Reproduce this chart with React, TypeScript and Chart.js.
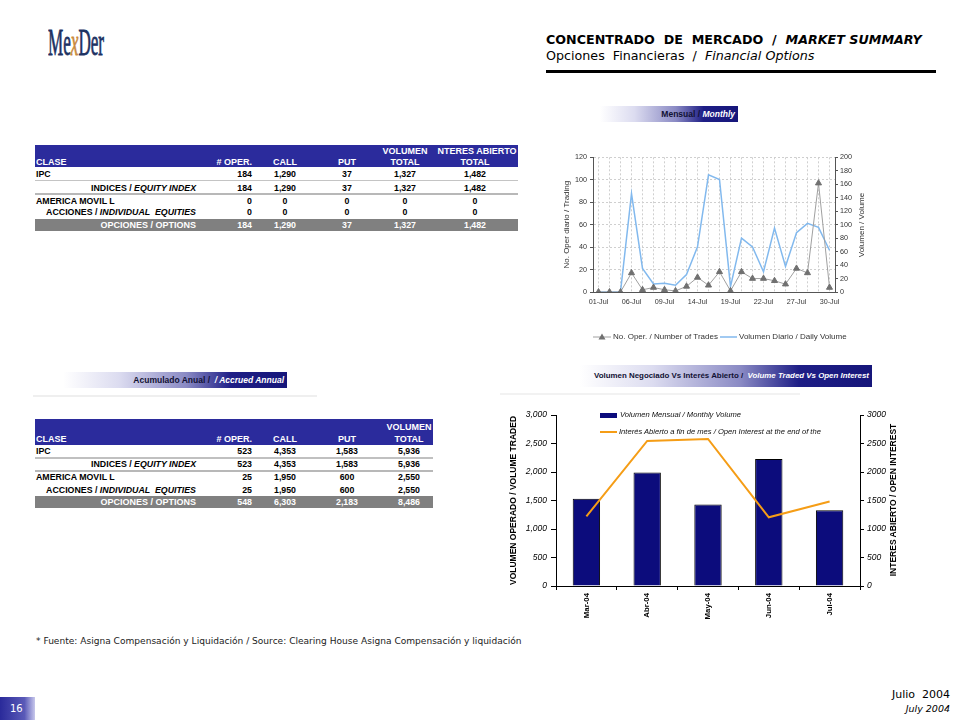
import React, { useEffect, useRef } from 'react';
import { Chart, registerables } from 'chart.js';

Chart.register(...registerables);

// ---------- DATA ----------
const dailyLabels = ['01-Jul', '02-Jul', '05-Jul', '06-Jul', '07-Jul', '08-Jul', '09-Jul', '12-Jul', '13-Jul', '14-Jul', '15-Jul', '16-Jul', '19-Jul', '20-Jul', '21-Jul', '22-Jul', '23-Jul', '26-Jul', '27-Jul', '28-Jul', '29-Jul', '30-Jul'];
const shownDailyTicks = ['01-Jul', '06-Jul', '09-Jul', '14-Jul', '19-Jul', '22-Jul', '27-Jul', '30-Jul'];
const dailyTrades = [0, 0, 0, 17, 2, 4, 2, 1, 5, 13, 6, 18, 1, 18, 12, 12, 10, 7, 21, 17, 97, 4];
const dailyVolume = [0, 0, 0, 146, 35, 12, 13, 10, 26, 67, 174, 167, 8, 80, 67, 30, 95, 38, 88, 102, 96, 62];

const months = ['Mar-04', 'Abr-04', 'May-04', 'Jun-04', 'Jul-04'];
const monthlyVolume = [1530, 1990, 1430, 2230, 1327];
const openInterest = [1220, 2545, 2580, 1205, 1482];

const monthIPC = [184, 1290, 37, 1327, 1482];
const monthIndex = [184, 1290, 37, 1327, 1482];
const monthAMX = [0, 0, 0, 0, 0];
const monthEquities = [0, 0, 0, 0, 0];
const monthTotal = [184, 1290, 37, 1327, 1482];

const yearIPC = [523, 4353, 1583, 5936];
const yearIndex = [523, 4353, 1583, 5936];
const yearAMX = [25, 1950, 600, 2550];
const yearEquities = [25, 1950, 600, 2550];
const yearTotal = [548, 6303, 2183, 8486];

// ---------- STYLE ----------
const SANS = '"Liberation Sans", Arial, sans-serif';
const VERD = '"DejaVu Sans", Verdana, sans-serif';
const HEAD_NAVY = '#2b2b9c';
const fmt = (n: number) => n.toLocaleString('en-US');

type Align = 'left' | 'right' | 'center';
function T(props: { x: number; y: number; align?: Align; children: any; style?: any; w?: number }) {
  const { x, y, align = 'left', children, style, w = 300 } = props;
  const left = align === 'left' ? x : align === 'right' ? x - w : x - w / 2;
  return (
    <div style={{ position: 'absolute', left, top: y - 7, width: w, height: 14, lineHeight: '14px', textAlign: align, whiteSpace: 'pre', ...style }}>
      {children}
    </div>
  );
}

function VT(props: { cx: number; cy: number; children: any; style?: any }) {
  return (
    <div style={{ position: 'absolute', left: props.cx - 120, top: props.cy - 7, width: 240, height: 14, lineHeight: '14px', textAlign: 'center', whiteSpace: 'pre', transform: 'rotate(-90deg)', transformOrigin: 'center center', ...props.style }}>
      {props.children}
    </div>
  );
}

function Box(props: { x: number; y: number; w: number; h: number; bg: string }) {
  return <div style={{ position: 'absolute', left: props.x, top: props.y, width: props.w, height: props.h, background: props.bg }} />;
}

function Banner(props: { x: number; y: number; w: number; h: number; dark: string; light: string; fs?: number }) {
  return (
    <div style={{ position: 'absolute', left: props.x, top: props.y, width: props.w, height: props.h,
      background: 'linear-gradient(to right, #ffffff 0%, #dcdcf0 25%, #8a8ac4 55%, #1e1e86 75%, #16167a 100%)',
      fontFamily: SANS, fontWeight: 'bold', fontSize: props.fs || 9, lineHeight: props.h + 'px', textAlign: 'right', paddingRight: 3, boxSizing: 'border-box', whiteSpace: 'pre', overflow: 'hidden' }}>
      <span style={{ color: '#111133' }}>{props.dark}</span>
      <span style={{ color: '#ffffff', fontStyle: 'italic' }}>{props.light}</span>
    </div>
  );
}

// ---------- TABLES ----------
const cellFont = { fontFamily: SANS, fontWeight: 'bold', fontSize: 8.8, color: '#000' };

function MonthTable() {
  const colX = [252, 285, 347, 405, 475];
  const colA: Align[] = ['right', 'center', 'center', 'center', 'center'];
  const rows = [
    { y: 174, label: <>IPC</>, lx: 36, la: 'left' as Align, vals: monthIPC },
    { y: 188, label: <>INDICES / <i>EQUITY INDEX</i></>, lx: 196, la: 'right' as Align, vals: monthIndex },
    { y: 201, label: <>AMERICA MOVIL L</>, lx: 36, la: 'left' as Align, vals: monthAMX },
    { y: 212, label: <>ACCIONES / <i>INDIVIDUAL  EQUITIES</i></>, lx: 196, la: 'right' as Align, vals: monthEquities },
  ];
  const hs = { ...cellFont, color: '#fff', fontSize: 9 };
  return (
    <>
      <Box x={35} y={145} w={483} h={22} bg={HEAD_NAVY} />
      <T x={36} y={162} style={hs}>CLASE</T>
      <T x={252} y={162} align="right" style={hs}># OPER.</T>
      <T x={285} y={162} align="center" style={hs}>CALL</T>
      <T x={347} y={162} align="center" style={hs}>PUT</T>
      <T x={405} y={151} align="center" style={hs}>VOLUMEN</T>
      <T x={405} y={162} align="center" style={hs}>TOTAL</T>
      <T x={477} y={151} align="center" style={hs}>NTERES ABIERTO</T>
      <T x={475} y={162} align="center" style={hs}>TOTAL</T>
      <Box x={35} y={180} w={483} h={1} bg="#c4c4c4" />
      <Box x={35} y={193} w={483} h={2} bg="#b8b8b8" />
      {rows.map((r, i) => (
        <React.Fragment key={i}>
          <T x={r.lx} y={r.y} align={r.la} style={cellFont}>{r.label}</T>
          {r.vals.map((v, j) => <T key={j} x={colX[j]} y={r.y} align={colA[j]} w={80} style={cellFont}>{fmt(v)}</T>)}
        </React.Fragment>
      ))}
      <Box x={35} y={219} w={483} h={12} bg="#808080" />
      <T x={196} y={225} align="right" style={{ ...cellFont, color: '#fff', fontSize: 9 }}>OPCIONES / OPTIONS</T>
      {monthTotal.map((v, j) => <T key={j} x={colX[j]} y={225} align={colA[j]} w={80} style={{ ...cellFont, color: '#fff' }}>{fmt(v)}</T>)}
    </>
  );
}

function YearTable() {
  const colX = [252, 285, 347, 409];
  const colA: Align[] = ['right', 'center', 'center', 'center'];
  const rows = [
    { y: 451, label: <>IPC</>, lx: 36, la: 'left' as Align, vals: yearIPC },
    { y: 464, label: <>INDICES / <i>EQUITY INDEX</i></>, lx: 196, la: 'right' as Align, vals: yearIndex },
    { y: 477, label: <>AMERICA MOVIL L</>, lx: 36, la: 'left' as Align, vals: yearAMX },
    { y: 490, label: <>ACCIONES / <i>INDIVIDUAL  EQUITIES</i></>, lx: 196, la: 'right' as Align, vals: yearEquities },
  ];
  const hs = { ...cellFont, color: '#fff', fontSize: 9 };
  return (
    <>
      <Box x={35} y={419} w={398} h={26} bg={HEAD_NAVY} />
      <T x={36} y={439} style={hs}>CLASE</T>
      <T x={252} y={439} align="right" style={hs}># OPER.</T>
      <T x={285} y={439} align="center" style={hs}>CALL</T>
      <T x={347} y={439} align="center" style={hs}>PUT</T>
      <T x={409} y={427} align="center" style={hs}>VOLUMEN</T>
      <T x={409} y={439} align="center" style={hs}>TOTAL</T>
      <Box x={35} y={457} w={398} h={2} bg="#c0c0c0" />
      <Box x={35} y={470} w={398} h={2} bg="#b8b8b8" />
      {rows.map((r, i) => (
        <React.Fragment key={i}>
          <T x={r.lx} y={r.y} align={r.la} style={cellFont}>{r.label}</T>
          {r.vals.map((v, j) => <T key={j} x={colX[j]} y={r.y} align={colA[j]} w={80} style={cellFont}>{fmt(v)}</T>)}
        </React.Fragment>
      ))}
      <Box x={35} y={496} w={398} h={12} bg="#808080" />
      <T x={196} y={502} align="right" style={{ ...cellFont, color: '#fff', fontSize: 9 }}>OPCIONES / OPTIONS</T>
      {yearTotal.map((v, j) => <T key={j} x={colX[j]} y={502} align={colA[j]} w={80} style={{ ...cellFont, color: '#fff' }}>{fmt(v)}</T>)}
    </>
  );
}

// ---------- CHARTS ----------
function DailyChart() {
  const ref = useRef<HTMLCanvasElement>(null);
  useEffect(() => {
    const axisCol = '#555555';
    const tickFont = { family: SANS, size: 7.2 };
    const chart = new Chart(ref.current as HTMLCanvasElement, {
      type: 'line',
      data: {
        labels: dailyLabels,
        datasets: [
          { label: 'No. Oper. / Number of Trades', data: dailyTrades, yAxisID: 'y', borderColor: '#a0a0a0', borderWidth: 1, pointStyle: 'triangle', pointRadius: 3.5, pointBackgroundColor: '#707070', pointBorderColor: '#707070', tension: 0, order: 0 },
          { label: 'Volumen Diario / Daily Volume', data: dailyVolume, yAxisID: 'y1', borderColor: '#82b9ee', borderWidth: 1.5, pointRadius: 0, tension: 0, order: 1 },
        ],
      },
      options: {
        animation: false, responsive: false, maintainAspectRatio: false,
        layout: { padding: { top: 7, left: 0, right: 0, bottom: 0 } },
        plugins: { legend: { display: false }, tooltip: { enabled: false } },
        scales: {
          x: {
            offset: true,
            afterFit: (s: any) => { s.height = 23; },
            grid: { color: '#cfcfcf', drawTicks: false },
            border: { color: axisCol, dash: [2, 2] },
            ticks: { autoSkip: false, maxRotation: 0, minRotation: 0, padding: 6, color: '#333', font: tickFont,
              callback: (_v: any, i: number) => (shownDailyTicks.includes(dailyLabels[i]) ? dailyLabels[i] : '') },
          },
          y: {
            position: 'left', min: 0, max: 120,
            afterFit: (s: any) => { s.width = 38; },
            ticks: { stepSize: 20, padding: 3, color: '#333', font: tickFont },
            grid: { color: '#cfcfcf', tickColor: axisCol, tickLength: 3 },
            border: { color: axisCol, dash: [2, 2] },
            title: { display: true, text: 'No. Oper diario / Trading', color: '#333', font: { family: SANS, size: 8 }, padding: { top: 7, bottom: 0 } },
          },
          y1: {
            position: 'right', min: 0, max: 200,
            afterFit: (s: any) => { s.width = 35; },
            ticks: { stepSize: 20, padding: 2, color: '#333', font: tickFont },
            grid: { drawOnChartArea: false, tickColor: axisCol, tickLength: 3 },
            border: { color: axisCol },
            title: { display: false },
          },
        },
      } as any,
    });
    return () => chart.destroy();
  }, []);
  return <canvas ref={ref} width={315} height={165} style={{ position: 'absolute', left: 555, top: 150 }} />;
}

function MonthlyChart() {
  const ref = useRef<HTMLCanvasElement>(null);
  useEffect(() => {
    const chart = new Chart(ref.current as HTMLCanvasElement, {
      type: 'bar',
      data: {
        labels: months,
        datasets: [
          { type: 'line', label: 'Interés Abierto a fin de mes / Open Interest at the end of the', data: openInterest, yAxisID: 'y1', borderColor: '#f59d16', borderWidth: 2, pointRadius: 0, tension: 0, order: 0 } as any,
          { type: 'bar', label: 'Volumen Mensual / Monthly Volume', data: monthlyVolume, yAxisID: 'y', backgroundColor: '#0c0c7c', borderColor: '#000000', borderWidth: 1, categoryPercentage: 0.9, barPercentage: 0.5, order: 1 },
        ],
      },
      options: {
        animation: false, responsive: false, maintainAspectRatio: false,
        layout: { padding: { top: 10, left: 0, right: 0, bottom: 0 } },
        plugins: { legend: { display: false }, tooltip: { enabled: false } },
        scales: {
          x: {
            afterFit: (s: any) => { s.height = 41; },
            grid: { drawOnChartArea: false, color: '#000', tickLength: 4 },
            border: { color: '#000' },
            ticks: { autoSkip: false, minRotation: 90, maxRotation: 90, padding: 3, color: '#000', font: { family: SANS, size: 7.8, weight: 'bold' } },
          },
          y: {
            position: 'left', min: 0, max: 3000,
            afterFit: (s: any) => { s.width = 56; },
            ticks: { stepSize: 500, padding: 4, color: '#000', font: { family: SANS, size: 8.5, style: 'italic' }, callback: (v: any) => fmt(Number(v)) },
            grid: { drawOnChartArea: false, color: '#000', tickLength: 5 },
            border: { color: '#000' },
            title: { display: true, text: 'VOLUMEN OPERADO / VOLUME TRADED', color: '#000', font: { family: SANS, size: 8.5, weight: 'bold' }, padding: { top: 9, bottom: 0 } },
          },
          y1: {
            position: 'right', min: 0, max: 3000,
            afterFit: (s: any) => { s.width = 40; },
            ticks: { stepSize: 500, padding: 3, color: '#000', font: { family: SANS, size: 8.5, style: 'italic' }, callback: (v: any) => String(v) },
            grid: { drawOnChartArea: false, color: '#000', tickLength: 4 },
            border: { color: '#000' },
            title: { display: false },
          },
        },
      } as any,
    });
    return () => chart.destroy();
  }, []);
  return <canvas ref={ref} width={400} height={222} style={{ position: 'absolute', left: 500, top: 405 }} />;
}

// ---------- PAGE ----------
export default function App() {
  const legFont = { fontFamily: SANS, fontSize: 8, color: '#333' };
  const leg2Font = { fontFamily: SANS, fontSize: 7.6, fontStyle: 'italic', color: '#111' };
  return (
    <div style={{ position: 'absolute', left: 0, top: 0, width: 960, height: 720, overflow: 'hidden', background: '#fff', fontFamily: SANS }}>
      {/* Logo */}
      <div style={{ position: 'absolute', left: 48, top: 21, fontFamily: '"Liberation Serif", "DejaVu Serif", serif', fontSize: 38, lineHeight: '42px', color: '#1d3263', transform: 'scaleX(0.45)', transformOrigin: 'left top', whiteSpace: 'pre', WebkitTextStroke: '0.8px #1d3263' }}>
        Me<span style={{ color: '#c98a3c', fontStyle: 'italic', WebkitTextStroke: '0.8px #c98a3c' }}>x</span>Der
      </div>

      {/* Header */}
      <T x={546} y={40} style={{ fontFamily: VERD, fontWeight: 'bold', fontSize: 12.7, color: '#000' }}>{'CONCENTRADO  DE  MERCADO  /  '}<i>MARKET SUMMARY</i></T>
      <T x={546} y={56} style={{ fontFamily: VERD, fontSize: 12.7, color: '#000' }}>{'Opciones  Financieras  /  '}<i>Financial Options</i></T>
      <Box x={546} y={70} w={390} h={3} bg="#000" />

      {/* Monthly table */}
      <MonthTable />

      {/* Banners */}
      <Banner x={600} y={106} w={138} h={16} dark="Mensual / " light="Monthly" fs={8.5} />
      <Banner x={63} y={372} w={224} h={16} dark="Acumulado Anual /  " light="/ Accrued Annual" fs={8.5} />
      <Box x={33} y={395} w={284} h={2} bg="#efefef" />
      <Banner x={580} y={365} w={292} h={22} dark="Volumen Negociado Vs Interés Abierto / " light=" Volume Traded Vs Open Interest" fs={7.9} />
      <Box x={500} y={393} w={300} h={2} bg="#f2f2f2" />

      {/* Accrued table */}
      <YearTable />

      {/* Daily chart */}
      <DailyChart />
      <VT cx={862} cy={225} style={{ fontFamily: SANS, fontSize: 8, color: '#333' }}>Volumen / Volume</VT>
      <svg style={{ position: 'absolute', left: 593, top: 332 }} width={18} height={10}>
        <line x1={0} y1={5} x2={18} y2={5} stroke="#a0a0a0" strokeWidth={1} />
        <polygon points="9,1.5 12.5,7.5 5.5,7.5" fill="#707070" />
      </svg>
      <T x={613} y={337} style={legFont}>No. Oper. / Number of Trades</T>
      <svg style={{ position: 'absolute', left: 720, top: 332 }} width={17} height={10}>
        <line x1={0} y1={5} x2={17} y2={5} stroke="#82b9ee" strokeWidth={1.5} />
      </svg>
      <T x={739} y={337} style={legFont}>Volumen Diario / Daily Volume</T>

      {/* Monthly chart */}
      <MonthlyChart />
      <VT cx={893} cy={500} style={{ fontFamily: SANS, fontSize: 8.5, fontWeight: 'bold', color: '#000' }}>INTERES ABIERTO / OPEN INTEREST</VT>
      <Box x={600} y={413} w={17} h={5} bg="#0c0c7c" />
      <T x={620} y={415} style={leg2Font}>Volumen Mensual / Monthly Volume</T>
      <Box x={600} y={431} w={17} h={2} bg="#f59d16" />
      <T x={619} y={432} style={leg2Font}>Interés Abierto a fin de mes / Open Interest at the end of the</T>

      {/* Footer */}
      <T x={36} y={641} style={{ fontFamily: VERD, fontSize: 9.07, color: '#222' }}>{'* Fuente: Asigna Compensación y Liquidación / Source: Clearing House Asigna Compensación y liquidación'}</T>
      <div style={{ position: 'absolute', left: 0, top: 697, width: 35, height: 23, background: 'linear-gradient(to right, #2a2a9a 0%, #5a5ab8 70%, #c8c8ec 100%)' }} />
      <T x={10} y={709} style={{ fontFamily: VERD, fontSize: 10, color: '#fff' }}>16</T>
      <T x={950} y={695} align="right" style={{ fontFamily: VERD, fontSize: 11, color: '#000' }}>Julio  2004</T>
      <T x={950} y={709} align="right" style={{ fontFamily: VERD, fontSize: 9.5, fontStyle: 'italic', color: '#000' }}>July 2004</T>
    </div>
  );
}
